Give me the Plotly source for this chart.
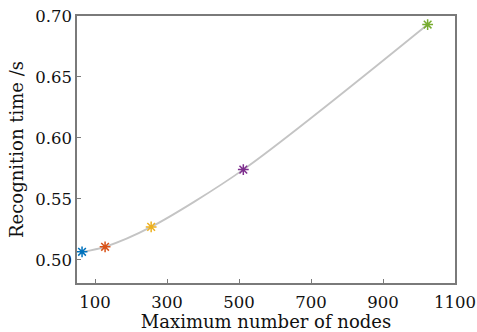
import plotly.graph_objects as go

# Recognition time measured for each tree size
max_nodes = [64, 128, 256, 512, 1024]
recog_time = [0.5066, 0.5107, 0.527, 0.574, 0.693]
point_colors = ["#0072bd", "#d95319", "#edb120", "#7e2f8e", "#77ac30"]

x_ticks = [100, 300, 500, 700, 900, 1100]
y_ticks = [0.50, 0.55, 0.60, 0.65, 0.70]

font_family = "DejaVu Serif"

fig = go.Figure()

# smooth trend line through the measurements
fig.add_trace(go.Scatter(
    x=max_nodes, y=recog_time, mode="lines",
    line=dict(color="#c4c4c4", width=1.8, shape="spline", smoothing=0.8),
    hoverinfo="skip", showlegend=False,
))

# individual measurement markers
for xv, yv, c in zip(max_nodes, recog_time, point_colors):
    fig.add_trace(go.Scatter(
        x=[xv], y=[yv], mode="markers",
        marker=dict(symbol="asterisk-open", size=9, color=c,
                    line=dict(color=c, width=1.5)),
        showlegend=False,
    ))

axis_common = dict(
    showline=True, linecolor="#7a7a7a", linewidth=1.5, mirror=True,
    ticks="inside", ticklen=4, tickwidth=1, tickcolor="#7a7a7a",
    showgrid=False, zeroline=False, automargin=False,
    tickfont=dict(family=font_family, size=16.5, color="#111"),
)

fig.update_xaxes(
    range=[50, 1100], tickvals=x_ticks, ticktext=[str(v) for v in x_ticks],
    ticklabelstandoff=3,
    title=dict(text="Maximum number of nodes",
               font=dict(family=font_family, size=18, color="#111"), standoff=4),
    **axis_common,
)
fig.update_yaxes(
    range=[0.481, 0.70], tickvals=y_ticks, ticktext=[f"{v:.2f}" for v in y_ticks],
    title=dict(text="Recognition time /s",
               font=dict(family=font_family, size=18, color="#111"), standoff=7),
    **axis_common,
)

fig.update_layout(
    width=477, height=332,
    margin=dict(l=77, r=22, t=16, b=49),
    plot_bgcolor="white", paper_bgcolor="white",
)

fig.write_html("out.html")
